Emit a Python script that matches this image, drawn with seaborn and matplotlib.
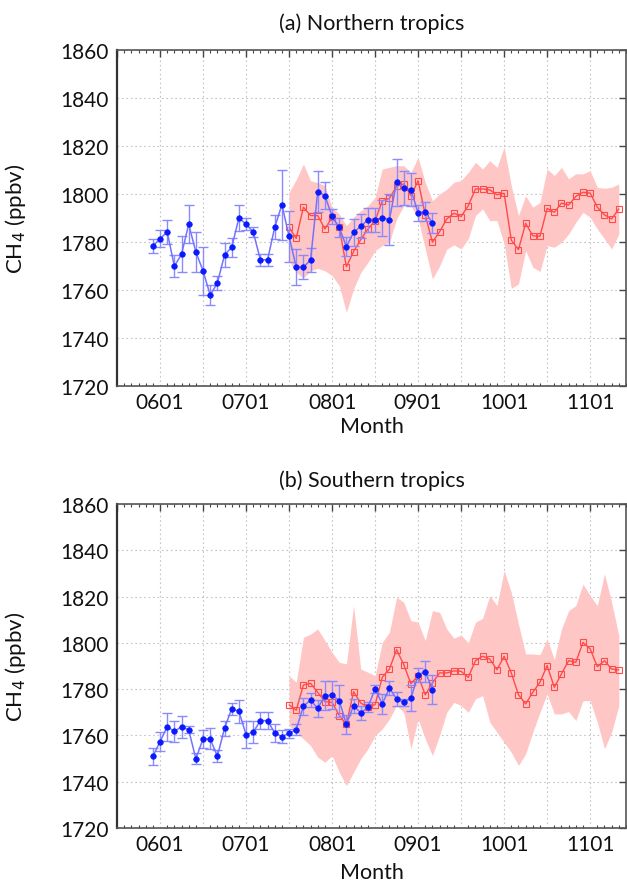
import numpy as np
import pandas as pd
import matplotlib
matplotlib.use("Agg")
import matplotlib.pyplot as plt
import seaborn as sns
from matplotlib.ticker import MultipleLocator, FuncFormatter

sns.set_theme(style="white")
plt.rcParams['font.family'] = ['Lato', 'DejaVu Sans']

# ---------------- data ----------------
obs_start, obs_count = "2005-12", 40
mod_start, mod_count = "2007-07", 47

# (a) Northern tropics
n_obs = [1778.3, 1781.3, 1784.2, 1769.9, 1774.9, 1787.4, 1775.8, 1768.0, 1757.9, 1762.9,
         1774.6, 1777.8, 1790.0, 1787.4, 1784.2, 1772.6, 1772.6, 1786.1, 1795.5, 1782.4,
         1769.5, 1769.5, 1772.5, 1801.0, 1799.3, 1790.7, 1786.1, 1778.0, 1784.0, 1786.5,
         1789.3, 1789.0, 1790.1, 1789.3, 1804.9, 1802.5, 1801.8, 1792.1, 1792.6, 1787.9]
n_obs_err = [3.0, 3.5, 5.0, 4.5, 7.5, 8.0, 8.5, 10.0, 4.0, 3.0,
             5.0, 4.0, 5.5, 2.6, 2.0, 2.5, 2.5, 5.0, 14.5, 10.6,
             7.5, 5.0, 5.0, 8.6, 5.5, 3.0, 4.0, 4.0, 5.5, 5.0,
             5.0, 5.0, 7.6, 10.6, 9.8, 7.0, 7.0, 3.5, 4.0, 4.0]
n_mod = [1786.1, 1781.5, 1794.5, 1791.0, 1791.0, 1785.4, 1790.3, 1786.1, 1769.7, 1776.0,
         1781.0, 1785.4, 1788.9, 1797.1, 1798.2, 1803.2, 1804.2, 1799.3, 1805.5, 1791.3,
         1779.9, 1784.3, 1789.6, 1792.0, 1790.6, 1795.1, 1802.1, 1802.1, 1801.7, 1799.7,
         1800.3, 1780.8, 1776.8, 1787.8, 1782.6, 1782.4, 1794.0, 1792.4, 1796.2, 1795.4,
         1799.0, 1800.7, 1800.4, 1794.5, 1791.3, 1789.6, 1793.8]
n_mod_hi = [1800.7, 1806.0, 1812.5, 1805.5, 1804.8, 1803.5, 1794.4, 1791.7, 1786.8, 1790.3,
            1793.0, 1795.1, 1798.6, 1810.4, 1811.1, 1811.8, 1811.8, 1809.0, 1815.3, 1804.8,
            1797.2, 1800.0, 1802.0, 1804.9, 1805.6, 1809.0, 1813.2, 1810.4, 1813.9, 1811.1,
            1819.5, 1803.5, 1791.0, 1799.3, 1794.5, 1796.5, 1810.4, 1807.7, 1811.1, 1806.3,
            1808.4, 1808.4, 1809.7, 1802.8, 1802.4, 1802.8, 1804.2]
n_mod_lo = [1772.0, 1767.3, 1765.0, 1768.0, 1769.0, 1768.0, 1766.0, 1761.8, 1750.7, 1760.4,
            1767.3, 1771.5, 1776.4, 1778.5, 1779.8, 1789.6, 1795.1, 1795.1, 1789.6, 1777.1,
            1764.6, 1770.0, 1777.0, 1778.8, 1777.1, 1781.3, 1791.0, 1793.8, 1788.9, 1788.9,
            1779.2, 1760.7, 1762.5, 1776.4, 1769.5, 1767.7, 1778.5, 1777.8, 1779.9, 1783.3,
            1788.2, 1792.4, 1790.3, 1785.4, 1781.3, 1777.1, 1783.3]

# (b) Southern tropics
s_obs = [1750.9, 1757.3, 1763.8, 1761.7, 1763.8, 1762.4, 1749.9, 1758.5, 1758.5, 1751.0,
         1763.1, 1771.5, 1770.4, 1760.4, 1761.4, 1766.4, 1766.4, 1761.1, 1759.5, 1760.9,
         1762.5, 1772.6, 1775.3, 1771.7, 1777.2, 1777.5, 1775.0, 1764.8, 1772.9, 1769.7,
         1772.2, 1780.1, 1773.6, 1780.4, 1775.8, 1774.3, 1776.1, 1786.1, 1787.6, 1779.8]
s_obs_err = [3.5, 4.2, 6.0, 4.5, 4.7, 1.5, 2.4, 3.8, 4.5, 2.5,
             3.2, 2.5, 5.0, 6.0, 4.8, 3.7, 3.7, 4.0, 2.7, 2.0,
             2.5, 3.7, 3.0, 3.6, 6.3, 6.0, 7.0, 4.0, 3.0, 3.0,
             2.2, 1.7, 4.3, 3.0, 3.0, 1.5, 5.6, 3.2, 4.7, 6.1]
s_mod = [1773.2, 1770.9, 1781.8, 1782.5, 1778.6, 1774.6, 1774.3, 1768.6, 1764.8, 1778.9,
         1774.0, 1772.2, 1773.3, 1785.1, 1788.7, 1797.1, 1790.6, 1782.3, 1785.8, 1777.5,
         1782.7, 1787.0, 1787.0, 1787.9, 1787.7, 1785.1, 1792.3, 1794.2, 1793.0, 1788.4,
         1794.2, 1787.0, 1777.6, 1773.6, 1778.6, 1783.0, 1790.2, 1780.8, 1786.6, 1792.3,
         1791.6, 1800.2, 1797.4, 1789.7, 1792.3, 1788.7, 1788.3]
s_mod_hi = [1785.8, 1783.0, 1802.4, 1803.8, 1806.0, 1801.0, 1795.9, 1791.6, 1790.9, 1816.1,
            1788.7, 1787.3, 1785.8, 1800.2, 1804.6, 1819.7, 1817.5, 1809.6, 1808.9, 1801.0,
            1813.9, 1813.2, 1806.0, 1802.0, 1803.4, 1800.0, 1808.9, 1810.6, 1820.4, 1816.1,
            1831.2, 1821.8, 1808.2, 1795.2, 1795.2, 1794.9, 1801.7, 1792.8, 1806.0, 1813.9,
            1816.1, 1825.4, 1820.4, 1816.1, 1829.8, 1817.5, 1803.1]
s_mod_lo = [1764.3, 1761.4, 1758.5, 1755.6, 1750.6, 1748.4, 1751.3, 1744.1, 1738.3, 1744.1,
            1749.9, 1754.2, 1759.9, 1762.8, 1767.1, 1772.9, 1770.0, 1754.2, 1767.1, 1758.5,
            1751.3, 1760.0, 1770.0, 1774.3, 1772.9, 1770.0, 1775.8, 1777.2, 1765.7, 1761.4,
            1757.0, 1752.7, 1747.0, 1752.0, 1761.4, 1770.0, 1777.9, 1769.3, 1769.3, 1770.3,
            1766.4, 1775.0, 1775.0, 1765.7, 1754.2, 1761.4, 1772.9]

titles = ["(a) Northern tropics", "(b) Southern tropics"]
y_ticks = [1720, 1740, 1760, 1780, 1800, 1820, 1840, 1860]


def month_index(start, n):
    p = pd.period_range(start, periods=n, freq="M")
    return np.array((p.year - 2006) * 12 + (p.month - 1), dtype=float)


t_obs = month_index(obs_start, obs_count)
t_mod = month_index(mod_start, mod_count)

panels = [
    (n_obs, n_obs_err, n_mod, n_mod_lo, n_mod_hi),
    (s_obs, s_obs_err, s_mod, s_mod_lo, s_mod_hi),
]

# ---------------- figure ----------------
W, H = 627, 887
fig = plt.figure(figsize=(W / 100, H / 100), dpi=100)
ax_rects = [
    [117 / W, 1 - 387 / H, 509 / W, 336 / H],
    [117 / W, 1 - 829 / H, 509 / W, 324 / H],
]
title_pads = [15, 13]
xlabel_pads = [3, 6]

blue_line = "#7373ff"
blue_pt = "#0a1aff"
blue_err = "#8a8aff"
red_line = "#ff4a4a"
pink = "#ffc6c6"


def fmt_month(v, pos):
    v = int(round(v))
    if v % 12 == 0:
        return f"{6 + v // 12:02d}01"
    return ""


for i, (obs, err, mod, lo, hi) in enumerate(panels):
    ax = fig.add_axes(ax_rects[i])
    ax.fill_between(t_mod, lo, hi, color=pink, lw=0, zorder=1)
    df_mod = pd.DataFrame({"t": t_mod, "v": mod})
    sns.lineplot(data=df_mod, x="t", y="v", ax=ax, color=red_line, lw=1.0,
                 marker="s", markersize=5, markerfacecolor="none",
                 markeredgecolor="#ff4a4a", markeredgewidth=0.8, zorder=2)
    ax.errorbar(t_obs, obs, yerr=err, fmt="none", ecolor=blue_err,
                elinewidth=1.0, capsize=3.5, capthick=1.0, zorder=3)
    df_obs = pd.DataFrame({"t": t_obs, "v": obs})
    sns.lineplot(data=df_obs, x="t", y="v", ax=ax, color=blue_line, lw=1.1,
                 marker="o", markersize=4, markerfacecolor=blue_pt,
                 markeredgecolor=blue_pt, markeredgewidth=0.5, zorder=4)

    ax.set_xlim(-6, 65)
    ax.set_ylim(1720, 1860)
    ax.set_yticks(y_ticks)
    ax.xaxis.set_major_locator(MultipleLocator(6))
    ax.xaxis.set_minor_locator(MultipleLocator(1))
    ax.xaxis.set_major_formatter(FuncFormatter(fmt_month))
    ax.tick_params(axis="both", which="major", direction="in", length=5,
                   width=1.0, color="#444444", labelsize=15, labelcolor="#111111",
                   top=True, right=True, pad=4)
    ax.tick_params(axis="y", which="major", pad=6)
    ax.tick_params(axis="x", which="minor", direction="in", length=2.5,
                   width=0.8, color="#444444", top=True, bottom=True)
    ax.grid(True, which="major", ls=(0, (1.5, 2.5)), color="#c4c4c4", lw=0.8)
    ax.set_axisbelow(True)
    for s in ax.spines.values():
        s.set_color("#555555")
        s.set_linewidth(1.2)
        s.set_visible(True)
    ax.spines["left"].set_color("#333333")
    ax.spines["left"].set_linewidth(1.6)
    ax.set_xlabel("Month", fontsize=15.5, labelpad=xlabel_pads[i], color="#111111")
    ax.set_ylabel("CH$_4$ (ppbv)", fontsize=16, color="#111111")
    ax.yaxis.set_label_coords(-0.175, 0.5)
    ax.set_title(titles[i], fontsize=15.5, pad=title_pads[i], color="#111111")

fig.savefig("out.png", dpi=100)
